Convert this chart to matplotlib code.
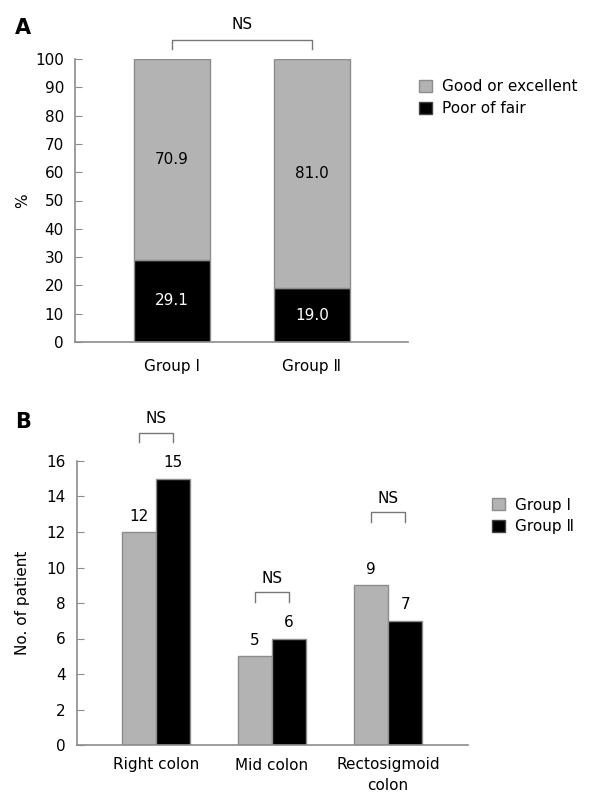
import matplotlib
matplotlib.use("Agg")
import matplotlib.pyplot as plt
from matplotlib.patches import Patch
import numpy as np

plt.rcParams['font.family'] = ['DejaVu Sans', 'Noto Sans CJK SC']
plt.rcParams['font.size'] = 11

##### Data #####
# panel A: percentage of bowel preparation quality
groupsA = ["Group Ⅰ", "Group Ⅱ"]
poorFair = [29.1, 19.0]
goodExcellent = [70.9, 81.0]

# panel B: number of patients per location
locations = ["Right colon", "Mid colon", "Rectosigmoid\ncolon"]
group1 = [12, 5, 9]
group2 = [15, 6, 7]
bracketB = [17.6, 8.6, 13.1]  # height of NS brackets

GREY = "#b3b3b3"
AXC = "#8c8c8c"


def styleAxis(ax):
    for side in ["top", "right"]:
        ax.spines[side].set_visible(False)
    for side in ["left", "bottom"]:
        ax.spines[side].set_color(AXC)
        ax.spines[side].set_linewidth(1.2)
    ax.tick_params(axis="y", direction="in", length=5, color=AXC, pad=8, labelsize=11)
    ax.tick_params(axis="x", length=0, labelsize=11)


def bracket(ax, x0, x1, y, leg, text_y):
    ax.plot([x0, x0, x1, x1], [y - leg, y, y, y - leg], color="#777777", lw=1, clip_on=False)
    ax.text((x0 + x1) / 2, text_y, "NS", ha="center", va="center", fontsize=11)


fig = plt.figure(figsize=(5.9, 8.1), dpi=100)

##### Panel A #####
axA = fig.add_axes([75 / 590, 1 - 342 / 810, 333 / 590, 283 / 810])
xA = np.arange(len(groupsA))
wA = 0.537
axA.bar(xA, poorFair, width=wA, color="black", edgecolor=AXC, lw=1)
axA.bar(xA, goodExcellent, width=wA, bottom=poorFair, color=GREY, edgecolor=AXC, lw=1)
for i in range(len(groupsA)):
    axA.text(xA[i], poorFair[i] / 2, f"{poorFair[i]:.1f}", ha="center", va="center", color="white", fontsize=11)
    axA.text(xA[i], poorFair[i] + goodExcellent[i] / 2, f"{goodExcellent[i]:.1f}", ha="center", va="center", fontsize=11)
axA.set_xlim(-0.693, 1.686)
axA.set_ylim(0, 100)
axA.set_yticks(range(0, 101, 10))
axA.set_xticks(xA)
axA.set_xticklabels(groupsA)
axA.tick_params(axis="x", pad=12)
axA.set_ylabel("%", fontsize=11)
axA.yaxis.set_label_coords((30 - 75) / 333, 0.5)
styleAxis(axA)
bracket(axA, 0, 1, 106.7, 3.3, 112.3)
fig.text(15 / 590, 1 - 28 / 810, "A", fontsize=15, fontweight="bold", va="center", ha="left")

fig.legend(handles=[Patch(facecolor=GREY, edgecolor=AXC, label="Good or excellent"),
                    Patch(facecolor="black", edgecolor="#444444", label="Poor of fair")],
           loc="center left", bbox_to_anchor=(419 / 590, 1 - 97.5 / 810), frameon=False,
           borderpad=0, borderaxespad=0, handlelength=0.85, handleheight=0.85,
           handletextpad=0.65, labelspacing=0.45, fontsize=11)

##### Panel B #####
axB = fig.add_axes([77 / 590, 1 - 745 / 810, 391 / 590, 284 / 810])
xB = np.arange(len(locations))
wB = 0.297
axB.bar(xB - wB / 2, group1, width=wB, color=GREY, edgecolor=AXC, lw=1)
axB.bar(xB + wB / 2, group2, width=wB, color="black", edgecolor=AXC, lw=1)
for i in range(len(locations)):
    axB.annotate(str(group1[i]), (xB[i] - wB / 2, group1[i]), xytext=(0, 6), textcoords="offset points",
                 ha="center", va="bottom", fontsize=11)
    axB.annotate(str(group2[i]), (xB[i] + wB / 2, group2[i]), xytext=(0, 6), textcoords="offset points",
                 ha="center", va="bottom", fontsize=11)
    bracket(axB, xB[i] - wB / 2, xB[i] + wB / 2, bracketB[i], 0.55, bracketB[i] + 0.8)
axB.set_xlim(-0.681, 2.69)
axB.set_ylim(0, 16)
axB.set_yticks(range(0, 17, 2))
axB.set_xticks(xB)
axB.set_xticklabels(locations, linespacing=1.45)
axB.tick_params(axis="x", pad=9)
axB.set_ylabel("No. of patient", fontsize=11)
axB.yaxis.set_label_coords((30 - 77) / 391, 0.5)
styleAxis(axB)
fig.text(15 / 590, 1 - 422 / 810, "B", fontsize=15, fontweight="bold", va="center", ha="left")

fig.legend(handles=[Patch(facecolor=GREY, edgecolor=AXC, label="Group Ⅰ"),
                    Patch(facecolor="black", edgecolor="#444444", label="Group Ⅱ")],
           loc="center left", bbox_to_anchor=(492 / 590, 1 - 516 / 810), frameon=False,
           borderpad=0, borderaxespad=0, handlelength=0.85, handleheight=0.85,
           handletextpad=0.65, labelspacing=0.45, fontsize=11)

plt.savefig("out.png", dpi=100)
